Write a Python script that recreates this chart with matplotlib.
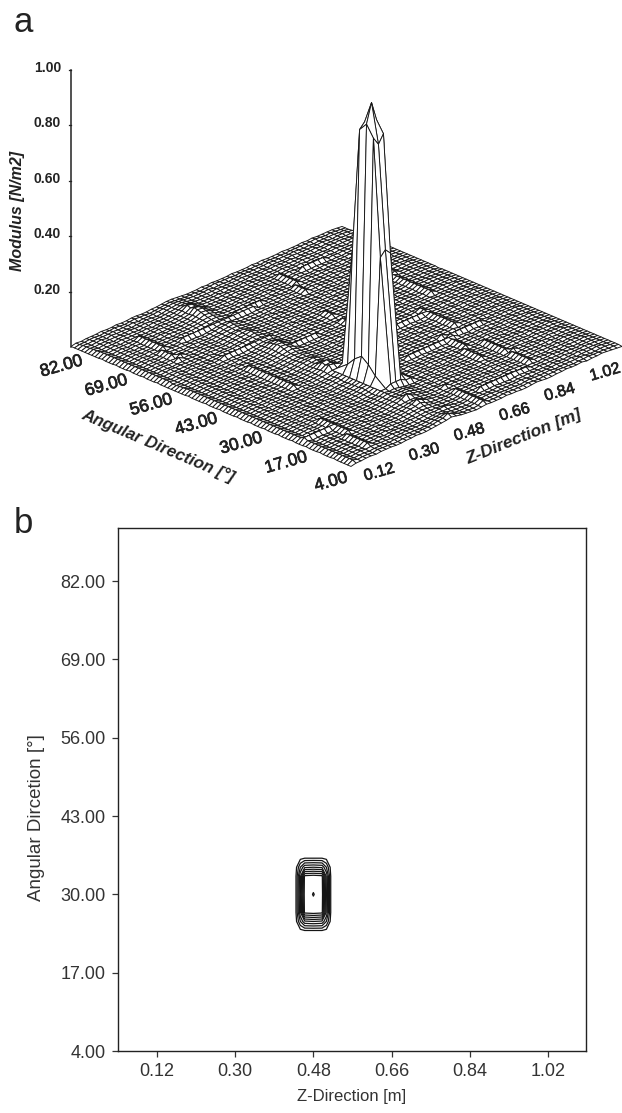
import numpy as np
import matplotlib
matplotlib.use('Agg')
import matplotlib.pyplot as plt
from matplotlib.collections import PolyCollection
import matplotlib.patheffects as pe

plt.rcParams['font.family'] = ['Liberation Sans', 'DejaVu Sans']

# panel a: modulus surface, one string per degree of angle, one base-36 digit per z cell (unit 0.002 N/m2)
surface_rows = """
13344 34443 34454 45678 a8654 34544 45443 34543 34454 45344 54321
16344 35443 34444 55689 e9644 34944 45544 45434 44544 34454 44332
16344 34443 44544 34578 a7544 45944 45444 34544 45344 44543 34432
16345 45544 34454 44567 87544 34945 54444 45434 44454 45344 45432
16344 39444 45444 34456 76654 45944 44544 34454 44354 34454 44332
26345 49445 34544 44567 67864 34944 44544 34544 35444 45344 54432
16344 39444 45344 45567 66544 45943 99999 99988 44454 44543 44432
16345 49354 44544 34578 76544 34944 44544 45434 44344 54453 34432
16344 39445 34454 45678 97544 45944 54444 34544 39454 44354 44532
26345 49444 45344 45689 c8544 34944 45454 44344 49444 35444 54432
16344 39445 34454 4568a fb754 34544 34445 43444 39345 44453 44332
16345 44944 44544 45679 a9654 34454 45444 34544 49444 45344 54432
16344 34945 45354 34678 98754 44945 44544 45443 39454 44453 44332
26345 44944 44444 4568b hb764 45444 34444 44544 49345 44544 34432
16344 34945 34544 4578a ba864 44345 54454 34544 34944 54345 44532
19999 99954 44345 4568a 9a964 45444 44344 45544 49454 43444 54432
16345 34945 34454 45679 99974 44354 45444 34944 39344 54454 34332
26344 45944 44544 4568a 98864 45444 34544 44944 49445 44345 44432
16345 34945 45344 4567a 89754 34454 44544 34944 39444 54454 44532
16344 44944 34454 44568 98654 44344 54445 34954 49344 45444 34432
16345 35444 44444 34567 87544 45454 44344 44954 39454 44354 44332
26344 44544 34454 45678 98644 34445 34454 45944 49445 34444 54432
16345 34445 44445 4568a a7544 44544 45444 34494 35344 54454 44332
16344 45444 34444 4569b b8644 45344 44544 44494 44454 44345 34432
16345 34454 45454 4567a c8544 34454 34445 34494 45344 54444 44532
26344 44445 34544 45689 97544 44544 34454 44394 44454 34454 54332
16345 35444 44354 34578 86544 45444 44544 45494 45344 54344 44432
16344 44544 34444 45678 86444 34454 99999 99999 44354 45444 34432
16345 34445 45454 34567 77544 44345 44544 45349 99999 94544 54532
26344 45444 34544 4567a 98544 45444 43454 44494 34454 45344 44332
16345 34454 44445 4568c fa644 34454 54444 34544 45344 44544 34432
16344 44445 34454 4567a b8544 44544 43454 44344 44954 45444 54432
16345 35444 44444 34579 a7544 45444 54444 34454 35954 44344 34332
26344 44544 34454 4568d f8444 34454 43445 44544 44954 34444 44432
16345 34445 44945 4569h fc544 44344 54454 45344 34954 45454 54532
16344 45444 34944 4569e f9544 45444 43444 34454 45944 44344 44332
16345 34344 44945 4568g h9444 34454 44544 44544 44954 34344 34432
16344 44444 34954 4568c d6544 44544 53454 34344 34954 45454 44432
26345 35445 44945 45679 96444 34444 44445 44454 45944 44344 54332
16344 44544 34954 34578 96544 45454 99999 99999 99844 34344 44432
16345 34454 44945 45689 a7444 34444 44544 54344 34954 45454 34532
16344 45444 34954 34578 86544 44544 94454 44454 45944 44344 44332
26345 34445 44945 45678 76444 34454 94449 34544 34454 34444 54432
16344 44544 34954 34567 86544 45344 39549 44344 45444 45454 44332
16345 34445 44945 45678 76444 34454 49444 45454 34544 44344 34432
16344 45444 34954 34578 86444 45444 49459 34344 44454 34944 44532
16345 34544 44945 45679 a7544 34544 45949 44454 45344 45944 54332
26344 44444 34954 4568b c8444 44454 44949 34544 34454 44954 44432
16345 34445 44454 4568d c9999 99344 34944 45344 44544 34954 34432
16344 45444 34544 4569e d9544 34454 45944 44454 35444 45944 44332
15345 34444 45344 4568c e8644 44544 44354 34544 44454 34954 54432
15344 44545 34454 4568b c8544 45444 34454 44344 34544 45944 44332
14345 35444 44544 34679 97444 34454 45944 45454 44454 34954 34432
14344 44544 34454 45678 86544 44544 34944 34344 45344 45944 44331
16345 34445 45999 99999 99444 34454 45944 44454 45344 44954 34432
16344 45444 44544 34567 76544 44544 34544 34544 44454 34944 44432
26345 34544 34454 45678 86444 45344 44454 45344 34544 45954 54332
16344 44445 45344 34567 96544 34454 34544 44454 45344 44594 44432
16345 45444 34544 45678 a7444 44544 44444 34544 44454 34494 34432
16344 34454 44454 34578 96544 45444 34454 44344 34544 45494 44532
26345 44945 34544 45689 86444 34454 44544 45454 44454 34494 54332
16344 45494 44454 34567 76544 44544 45444 34544 45344 45494 44432
16345 34954 45344 45678 86444 45344 34454 44454 34454 34944 34432
16344 45944 34544 34578 96544 34454 44544 34344 44544 45954 44332
26345 34954 44454 45689 a7444 44544 45444 94454 45344 44944 54432
16344 44945 45344 34578 86544 45444 34454 94544 34454 34944 44332
16345 34494 34999 99999 99999 99344 44544 93454 44544 45444 34432
16344 45494 44544 34567 76589 99994 45444 94444 34454 44344 44532
26345 34495 34454 45678 86444 34544 34454 39445 44544 34454 54332
16344 44494 44344 45689 96544 44454 44544 49454 45344 45344 44432
16345 34495 34544 4568b a7444 45344 45444 49344 34454 44454 34332
16344 45494 45454 4569d c8544 34544 34454 49454 44544 34344 44432
26345 34595 34344 4569f e8444 44454 44544 49344 99999 45454 54332
16344 44494 44544 4568g e9544 45344 45444 49454 34454 34344 44432
16345 34444 34454 4568d c8444 34454 34454 44344 45344 45454 34332
15344 45444 45344 4569f d7544 44544 44544 34454 34544 44344 44432
15345 34544 34454 4568b b8444 45344 45444 44344 44454 34454 54332
14344 44445 44544 45679 96544 34454 34454 45454 45344 45344 44332
14345 35444 34454 34678 86444 44544 44544 34344 34544 44454 34432
14344 44544 45344 45678 76544 45344 34454 44454 44454 34344 44331
13344 34454 34544 34567 65444 34454 44344 34344 34344 44454 34321
13233 34334 33443 34456 65433 34343 33433 34343 33433 34343 33321
"""

# spike, rows from high angle to low angle, columns z-3 ... z+3 cells around (0.48, 30)
spike_rows = [
    [0.020, 0.020, 0.030, 0.030, 0.030, 0.020, 0.020],
    [0.020, 0.030, 0.090, 0.100, 0.090, 0.030, 0.020],
    [0.020, 0.040, 0.240, 0.260, 0.240, 0.040, 0.020],
    [0.020, 0.050, 0.470, 0.500, 0.470, 0.050, 0.020],
    [0.020, 0.060, 0.620, 0.650, 0.620, 0.060, 0.020],
    [0.020, 0.080, 0.900, 0.920, 0.900, 0.080, 0.020],
    [0.020, 0.090, 0.910, 0.950, 0.910, 0.090, 0.020],
    [0.020, 0.100, 0.930, 1.000, 0.930, 0.100, 0.020],
    [0.020, 0.090, 0.910, 0.880, 0.910, 0.090, 0.020],
    [0.020, 0.080, 0.890, 0.860, 0.890, 0.080, 0.020],
    [0.020, 0.060, 0.600, 0.480, 0.600, 0.060, 0.020],
    [0.020, 0.050, 0.470, 0.490, 0.470, 0.050, 0.020],
    [0.020, 0.040, 0.240, 0.260, 0.240, 0.040, 0.020],
    [0.020, 0.030, 0.090, 0.100, 0.090, 0.030, 0.020],
    [0.020, 0.020, 0.030, 0.030, 0.030, 0.020, 0.020],
]

z_ticks = [0.12, 0.30, 0.48, 0.66, 0.84, 1.02]
angle_ticks = [4, 17, 30, 43, 56, 69, 82]
modulus_ticks = [0.20, 0.40, 0.60, 0.80, 1.00]

# panel b: contours around the peak
contour_z = [0.42, 0.44, 0.45, 0.46, 0.48, 0.50, 0.51, 0.52, 0.54]
contour_angle = [21, 24, 25.5, 27, 30, 33, 34.5, 36, 39]
contour_values = [
    [0.00, 0.00, 0.00, 0.00, 0.00, 0.00, 0.00, 0.00, 0.00],
    [0.00, 0.03, 0.07, 0.10, 0.10, 0.10, 0.07, 0.03, 0.00],
    [0.00, 0.07, 0.30, 0.48, 0.50, 0.48, 0.30, 0.07, 0.00],
    [0.00, 0.10, 0.48, 0.93, 0.95, 0.93, 0.48, 0.10, 0.00],
    [0.00, 0.10, 0.50, 0.95, 1.00, 0.95, 0.50, 0.10, 0.00],
    [0.00, 0.10, 0.48, 0.93, 0.95, 0.93, 0.48, 0.10, 0.00],
    [0.00, 0.07, 0.30, 0.48, 0.50, 0.48, 0.30, 0.07, 0.00],
    [0.00, 0.03, 0.07, 0.10, 0.10, 0.10, 0.07, 0.03, 0.00],
    [0.00, 0.00, 0.00, 0.00, 0.00, 0.00, 0.00, 0.00, 0.00],
]
contour_levels = [0.10, 0.20, 0.30, 0.40, 0.50, 0.60, 0.70, 0.80, 0.90, 0.995]

modulus = np.array([[int(c, 36) for c in row.replace(' ', '')]
                    for row in surface_rows.strip().splitlines()], dtype=float) * 0.002
modulus[19:34, 19:26] = np.array(spike_rows)[::-1]

z_axis = 0.04 + 0.02 * np.arange(modulus.shape[1])
angle_axis = 4 + 1.0 * np.arange(modulus.shape[0])

# the spike is drawn with fewer mesh rows than the floor
spike_edges = [19, 22, 24, 26, 28, 30, 33]


def project(z, angle, value=0.0):
    # oblique view of panel a, result in figure pixels
    u = (np.asarray(z) - z_axis[0]) / (z_axis[-1] - z_axis[0])
    v = (np.asarray(angle) - angle_axis[0]) / (angle_axis[-1] - angle_axis[0])
    x = 351 + 271 * u - 280 * v
    y = 467 - 120 * u - 120 * v - 277 * np.asarray(value)
    return x, y


fig = plt.figure(figsize=(6.22, 11.13), dpi=100)

ax = fig.add_axes([0, 0, 1, 1])
ax.set_xlim(0, 622)
ax.set_ylim(1113, 0)
ax.axis('off')

Z, A = np.meshgrid(z_axis, angle_axis)
px, py = project(Z, A, modulus)


def quad(m0, m1, k):
    return [(px[m0, k], py[m0, k]), (px[m0, k + 1], py[m0, k + 1]),
            (px[m1, k + 1], py[m1, k + 1]), (px[m1, k], py[m1, k])]


cells = []
depth = []
for m in range(modulus.shape[0] - 1):
    for k in range(modulus.shape[1] - 1):
        if 19 <= m < 33 and 19 <= k < 25:
            continue
        cells.append(quad(m, m + 1, k))
        depth.append(2.22 * k + 1.48 * m)
for m0, m1 in zip(spike_edges[:-1], spike_edges[1:]):
    for k in range(19, 25):
        cells.append(quad(m0, m1, k))
        depth.append(2.22 * k + 1.48 * m0)
# back corner first so the front hides it
order = np.argsort(depth)[::-1]
ax.add_collection(PolyCollection([cells[i] for i in order], facecolors='white',
                                 edgecolors='#151515', linewidths=0.65))

# modulus axis
lx, ly = project(z_axis[0], angle_axis[-1])
ax.plot([lx, lx], [ly, ly - 277], color='#222222', lw=1.1)
heavy = [pe.withStroke(linewidth=0.5, foreground='#222222')]
for t in modulus_ticks:
    ax.plot([lx - 2, lx], [ly - 277 * t] * 2, color='#222222', lw=0.9)
    ax.text(lx - 10, ly - 277 * t - 2, f'{t:.2f}', ha='right', va='center', fontsize=10, fontweight='bold',
            color='#222222')
ax.text(18, 211, 'Modulus [N/m2]', rotation=90, ha='center', va='center', fontsize=11.5,
        fontweight='bold', style='italic', color='#222222')

for t in angle_ticks:
    x, y = project(z_axis[0], t)
    ax.text(x - 20, y + 15, f'{t:.2f}', rotation=16, ha='center', va='center', fontsize=12.5,
            color='#222222', path_effects=heavy, rotation_mode='anchor')
for t in z_ticks:
    x, y = project(t, angle_axis[0])
    ax.text(x + 8, y + 14, f'{t:.2f}', rotation=16, ha='center', va='center', fontsize=11.5,
            color='#222222', path_effects=heavy, rotation_mode='anchor')
ax.text(158, 446, 'Angular Direction [°]', rotation=-23, ha='center', va='center', fontsize=12.2,
        fontweight='bold', style='italic', color='#222222', rotation_mode='anchor')
ax.text(524, 437, 'Z-Direction [m]', rotation=22, ha='center', va='center', fontsize=12.5,
        fontweight='bold', style='italic', color='#222222', rotation_mode='anchor')

ax.text(23, 32, 'a', fontsize=25, ha='center', va='baseline', color='#222222')
ax.text(23, 533, 'b', fontsize=25, ha='center', va='baseline', color='#222222')

# panel b
ax2 = fig.add_axes([118 / 622, 1 - 1051 / 1113, 468 / 622, 523 / 1113])
ax2.contour(contour_z, contour_angle, contour_values, levels=contour_levels,
            colors='#151515', linewidths=0.9)
ax2.set_xlim(0.030, 1.108)
ax2.set_ylim(4, 90.8)
ax2.set_xticks(z_ticks)
ax2.set_xticklabels([f'{t:.2f}' for t in z_ticks])
ax2.set_yticks(angle_ticks)
ax2.set_yticklabels([f'{t:.2f}' for t in angle_ticks])
ax2.tick_params(labelsize=13, length=4, width=0.9, colors='#333333', pad=5)
ax2.set_xlabel('Z-Direction [m]', fontsize=12, color='#333333', labelpad=6)
ax2.set_ylabel('Angular Dircetion [°]', fontsize=13.5, color='#333333')
ax2.yaxis.set_label_coords(-0.155, 0.447)
for s in ax2.spines.values():
    s.set_linewidth(1.0)
    s.set_color('#222222')

fig.savefig('out.png', dpi=100)
